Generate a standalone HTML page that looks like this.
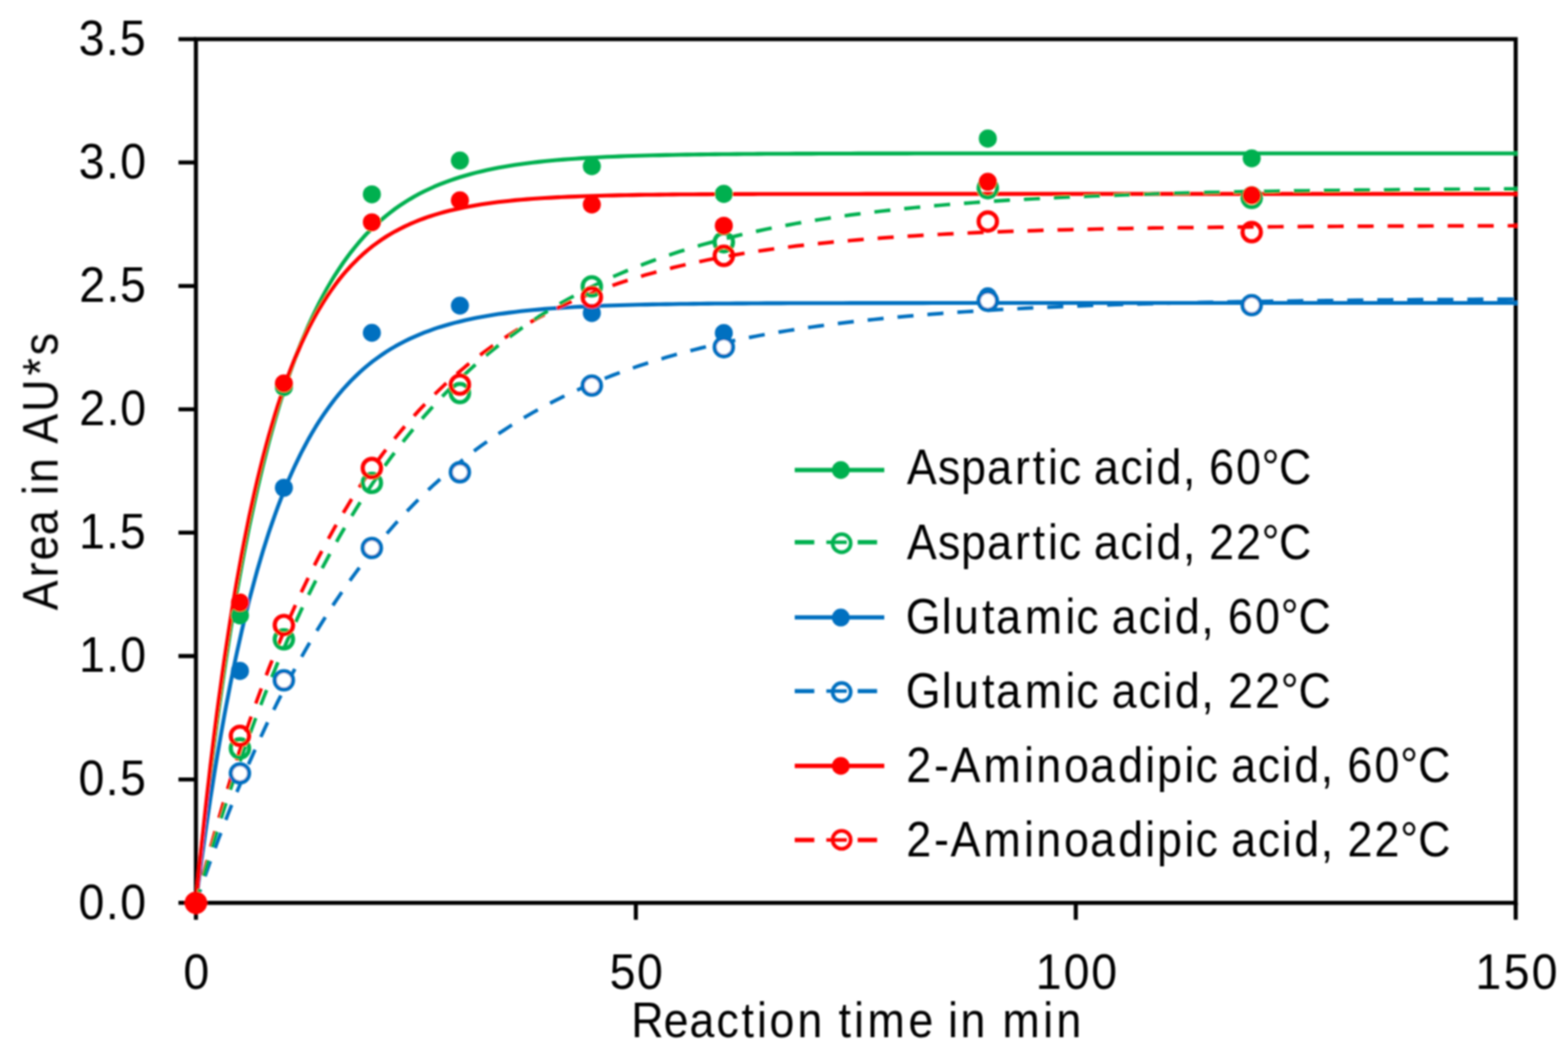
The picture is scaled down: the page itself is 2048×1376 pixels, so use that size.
<!DOCTYPE html>
<html lang="en"><head><meta charset="utf-8"><title>Reaction time chart</title>
<style>html,body{margin:0;padding:0;background:#fff}body{width:2048px;height:1376px;overflow:hidden}svg{display:block}text{font-family:"Liberation Sans",sans-serif;fill:#000;white-space:pre}</style></head><body>
<svg width="2048" height="1376" viewBox="0 0 2048 1376">
<defs><filter id="soft" x="0" y="0" width="2048" height="1376" filterUnits="userSpaceOnUse"><feGaussianBlur stdDeviation="0.8"/></filter></defs>
<rect width="2048" height="1376" fill="#fff"/>
<g filter="url(#soft)">
<g stroke="#000" stroke-width="5.3" fill="none">
<rect x="255.9" y="51.1" width="1723.8" height="1127.6"/>
<path d="M233.1 1178.7H255.9M233.1 1017.6H255.9M233.1 856.5H255.9M233.1 695.4H255.9M233.1 534.4H255.9M233.1 373.3H255.9M233.1 212.2H255.9M233.1 51.1H255.9M255.9 1178.7V1200.8M830.5 1178.7V1200.8M1405.1 1178.7V1200.8M1979.7 1178.7V1200.8"/>
</g>
<polyline fill="none" stroke="#00B050" stroke-width="5.1" stroke-linejoin="round" points="255.9,1178.7 256.0,1177.7 256.3,1175.1 256.7,1171.3 257.2,1166.3 257.8,1160.3 258.5,1153.2 259.4,1145.2 260.3,1136.3 261.4,1126.6 262.5,1116.1 263.7,1104.8 265.1,1092.9 266.5,1080.2 268.0,1067.0 269.6,1053.3 271.3,1039.0 273.1,1024.2 274.9,1009.0 276.9,993.4 278.9,977.4 281.0,961.2 283.2,944.7 285.5,927.9 287.9,910.9 290.3,893.8 292.8,876.6 295.4,859.2 298.1,841.9 300.8,824.4 303.6,807.0 306.5,789.7 309.5,772.4 312.6,755.1 315.7,738.0 318.9,721.1 322.2,704.3 325.5,687.6 329.0,671.2 332.5,655.0 336.0,639.1 339.7,623.4 343.4,607.9 347.2,592.8 351.0,577.9 355.0,563.4 359.0,549.1 363.0,535.2 367.2,521.6 371.4,508.4 375.6,495.5 380.0,482.9 384.4,470.7 388.9,458.8 393.4,447.3 398.1,436.2 402.7,425.3 407.5,414.9 412.3,404.8 417.2,395.0 422.2,385.6 427.2,376.5 432.3,367.8 437.4,359.3 442.6,351.3 447.9,343.5 453.3,336.0 458.7,328.8 464.2,322.0 469.7,315.4 475.3,309.1 481.0,303.1 486.7,297.4 492.6,291.9 498.4,286.7 504.3,281.7 510.3,277.0 516.4,272.4 522.5,268.2 528.7,264.1 535.0,260.2 541.3,256.5 547.6,253.1 554.1,249.8 560.6,246.7 567.1,243.7 573.8,240.9 580.4,238.3 587.2,235.8 594.0,233.5 600.9,231.3 607.8,229.2 614.8,227.2 621.8,225.4 628.9,223.7 636.1,222.0 643.3,220.5 650.6,219.1 658.0,217.8 665.4,216.5 672.9,215.3 680.4,214.2 688.0,213.2 695.7,212.3 703.4,211.4 711.2,210.5 719.0,209.8 726.9,209.0 734.8,208.4 742.9,207.8 750.9,207.2 759.1,206.6 767.3,206.1 775.5,205.7 783.8,205.2 792.2,204.8 800.6,204.5 809.1,204.1 817.6,203.8 826.2,203.5 834.9,203.2 843.6,203.0 852.3,202.8 861.2,202.6 870.1,202.4 879.0,202.2 888.0,202.0 897.1,201.9 906.2,201.7 915.4,201.6 924.6,201.5 933.9,201.4 943.2,201.3 952.6,201.2 962.1,201.1 971.6,201.0 981.2,201.0 990.8,200.9 1000.5,200.8 1010.2,200.8 1020.0,200.7 1029.9,200.7 1039.8,200.6 1049.7,200.6 1059.8,200.6 1069.8,200.5 1080.0,200.5 1090.2,200.5 1100.4,200.5 1110.7,200.5 1121.0,200.4 1131.5,200.4 1141.9,200.4 1152.4,200.4 1163.0,200.4 1173.6,200.4 1184.3,200.4 1195.1,200.3 1205.9,200.3 1216.7,200.3 1227.6,200.3 1238.6,200.3 1249.6,200.3 1260.7,200.3 1271.8,200.3 1283.0,200.3 1294.2,200.3 1305.5,200.3 1316.8,200.3 1328.2,200.3 1339.7,200.3 1351.2,200.3 1362.7,200.3 1374.3,200.3 1386.0,200.3 1397.7,200.3 1409.5,200.3 1421.3,200.3 1433.2,200.3 1445.1,200.3 1457.1,200.3 1469.1,200.3 1481.2,200.3 1493.4,200.3 1505.6,200.3 1517.8,200.3 1530.1,200.3 1542.5,200.3 1554.9,200.3 1567.4,200.3 1579.9,200.3 1592.5,200.3 1605.1,200.3 1617.7,200.3 1630.5,200.3 1643.3,200.3 1656.1,200.3 1669.0,200.3 1681.9,200.3 1694.9,200.3 1707.9,200.3 1721.0,200.3 1734.2,200.3 1747.4,200.3 1760.6,200.3 1773.9,200.3 1787.3,200.3 1800.7,200.3 1814.2,200.3 1827.7,200.3 1841.2,200.3 1854.8,200.3 1868.5,200.3 1882.2,200.3 1896.0,200.3 1909.8,200.3 1923.7,200.3 1937.6,200.3 1951.6,200.3 1965.6,200.3 1979.7,200.3 1982.2,200.3"/>
<polyline fill="none" stroke="#0070C0" stroke-width="5.1" stroke-linejoin="round" points="255.9,1178.7 256.0,1177.9 256.3,1175.8 256.7,1172.7 257.2,1168.7 257.8,1163.9 258.5,1158.2 259.4,1151.7 260.3,1144.5 261.4,1136.7 262.5,1128.2 263.7,1119.1 265.1,1109.5 266.5,1099.3 268.0,1088.7 269.6,1077.5 271.3,1066.0 273.1,1054.1 274.9,1041.9 276.9,1029.3 278.9,1016.5 281.0,1003.4 283.2,990.1 285.5,976.6 287.9,962.9 290.3,949.2 292.8,935.3 295.4,921.4 298.1,907.4 300.8,893.4 303.6,879.4 306.5,865.4 309.5,851.5 312.6,837.7 315.7,823.9 318.9,810.3 322.2,796.8 325.5,783.5 329.0,770.3 332.5,757.3 336.0,744.5 339.7,732.0 343.4,719.6 347.2,707.4 351.0,695.5 355.0,683.9 359.0,672.5 363.0,661.4 367.2,650.5 371.4,639.9 375.6,629.6 380.0,619.5 384.4,609.8 388.9,600.3 393.4,591.1 398.1,582.2 402.7,573.6 407.5,565.3 412.3,557.2 417.2,549.4 422.2,541.9 427.2,534.7 432.3,527.7 437.4,521.0 442.6,514.6 447.9,508.4 453.3,502.5 458.7,496.8 464.2,491.4 469.7,486.1 475.3,481.2 481.0,476.4 486.7,471.8 492.6,467.5 498.4,463.4 504.3,459.4 510.3,455.7 516.4,452.1 522.5,448.7 528.7,445.5 535.0,442.4 541.3,439.6 547.6,436.8 554.1,434.2 560.6,431.8 567.1,429.4 573.8,427.2 580.4,425.2 587.2,423.2 594.0,421.4 600.9,419.7 607.8,418.0 614.8,416.5 621.8,415.0 628.9,413.7 636.1,412.4 643.3,411.2 650.6,410.1 658.0,409.1 665.4,408.1 672.9,407.2 680.4,406.3 688.0,405.5 695.7,404.8 703.4,404.1 711.2,403.4 719.0,402.8 726.9,402.3 734.8,401.8 742.9,401.3 750.9,400.8 759.1,400.4 767.3,400.0 775.5,399.7 783.8,399.3 792.2,399.0 800.6,398.7 809.1,398.5 817.6,398.2 826.2,398.0 834.9,397.8 843.6,397.6 852.3,397.4 861.2,397.3 870.1,397.1 879.0,397.0 888.0,396.8 897.1,396.7 906.2,396.6 915.4,396.5 924.6,396.4 933.9,396.3 943.2,396.3 952.6,396.2 962.1,396.1 971.6,396.1 981.2,396.0 990.8,396.0 1000.5,395.9 1010.2,395.9 1020.0,395.9 1029.9,395.8 1039.8,395.8 1049.7,395.8 1059.8,395.7 1069.8,395.7 1080.0,395.7 1090.2,395.7 1100.4,395.7 1110.7,395.6 1121.0,395.6 1131.5,395.6 1141.9,395.6 1152.4,395.6 1163.0,395.6 1173.6,395.6 1184.3,395.6 1195.1,395.6 1205.9,395.6 1216.7,395.5 1227.6,395.5 1238.6,395.5 1249.6,395.5 1260.7,395.5 1271.8,395.5 1283.0,395.5 1294.2,395.5 1305.5,395.5 1316.8,395.5 1328.2,395.5 1339.7,395.5 1351.2,395.5 1362.7,395.5 1374.3,395.5 1386.0,395.5 1397.7,395.5 1409.5,395.5 1421.3,395.5 1433.2,395.5 1445.1,395.5 1457.1,395.5 1469.1,395.5 1481.2,395.5 1493.4,395.5 1505.6,395.5 1517.8,395.5 1530.1,395.5 1542.5,395.5 1554.9,395.5 1567.4,395.5 1579.9,395.5 1592.5,395.5 1605.1,395.5 1617.7,395.5 1630.5,395.5 1643.3,395.5 1656.1,395.5 1669.0,395.5 1681.9,395.5 1694.9,395.5 1707.9,395.5 1721.0,395.5 1734.2,395.5 1747.4,395.5 1760.6,395.5 1773.9,395.5 1787.3,395.5 1800.7,395.5 1814.2,395.5 1827.7,395.5 1841.2,395.5 1854.8,395.5 1868.5,395.5 1882.2,395.5 1896.0,395.5 1909.8,395.5 1923.7,395.5 1937.6,395.5 1951.6,395.5 1965.6,395.5 1979.7,395.5 1982.2,395.5"/>
<polyline fill="none" stroke="#FF0000" stroke-width="5.1" stroke-linejoin="round" points="255.9,1178.7 256.0,1177.6 256.3,1174.9 256.7,1170.8 257.2,1165.5 257.8,1159.1 258.5,1151.6 259.4,1143.0 260.3,1133.6 261.4,1123.3 262.5,1112.1 263.7,1100.2 265.1,1087.6 266.5,1074.3 268.0,1060.4 269.6,1045.9 271.3,1030.9 273.1,1015.5 274.9,999.6 276.9,983.4 278.9,966.8 281.0,950.0 283.2,932.9 285.5,915.7 287.9,898.3 290.3,880.8 292.8,863.2 295.4,845.6 298.1,828.0 300.8,810.4 303.6,792.9 306.5,775.5 309.5,758.2 312.6,741.1 315.7,724.1 318.9,707.4 322.2,690.9 325.5,674.6 329.0,658.6 332.5,642.9 336.0,627.5 339.7,612.4 343.4,597.6 347.2,583.2 351.0,569.2 355.0,555.4 359.0,542.1 363.0,529.1 367.2,516.5 371.4,504.3 375.6,492.4 380.0,481.0 384.4,469.9 388.9,459.2 393.4,448.9 398.1,438.9 402.7,429.3 407.5,420.1 412.3,411.3 417.2,402.8 422.2,394.6 427.2,386.8 432.3,379.4 437.4,372.2 442.6,365.4 447.9,358.9 453.3,352.7 458.7,346.8 464.2,341.2 469.7,335.8 475.3,330.7 481.0,325.9 486.7,321.3 492.6,317.0 498.4,312.9 504.3,309.0 510.3,305.4 516.4,301.9 522.5,298.7 528.7,295.6 535.0,292.7 541.3,290.0 547.6,287.4 554.1,285.0 560.6,282.7 567.1,280.6 573.8,278.6 580.4,276.8 587.2,275.0 594.0,273.4 600.9,271.9 607.8,270.5 614.8,269.2 621.8,267.9 628.9,266.8 636.1,265.7 643.3,264.7 650.6,263.8 658.0,263.0 665.4,262.2 672.9,261.4 680.4,260.8 688.0,260.1 695.7,259.5 703.4,259.0 711.2,258.5 719.0,258.1 726.9,257.6 734.8,257.2 742.9,256.9 750.9,256.6 759.1,256.3 767.3,256.0 775.5,255.7 783.8,255.5 792.2,255.3 800.6,255.1 809.1,254.9 817.6,254.7 826.2,254.6 834.9,254.4 843.6,254.3 852.3,254.2 861.2,254.1 870.1,254.0 879.0,253.9 888.0,253.8 897.1,253.8 906.2,253.7 915.4,253.6 924.6,253.6 933.9,253.5 943.2,253.5 952.6,253.5 962.1,253.4 971.6,253.4 981.2,253.4 990.8,253.3 1000.5,253.3 1010.2,253.3 1020.0,253.3 1029.9,253.2 1039.8,253.2 1049.7,253.2 1059.8,253.2 1069.8,253.2 1080.0,253.2 1090.2,253.2 1100.4,253.2 1110.7,253.2 1121.0,253.2 1131.5,253.1 1141.9,253.1 1152.4,253.1 1163.0,253.1 1173.6,253.1 1184.3,253.1 1195.1,253.1 1205.9,253.1 1216.7,253.1 1227.6,253.1 1238.6,253.1 1249.6,253.1 1260.7,253.1 1271.8,253.1 1283.0,253.1 1294.2,253.1 1305.5,253.1 1316.8,253.1 1328.2,253.1 1339.7,253.1 1351.2,253.1 1362.7,253.1 1374.3,253.1 1386.0,253.1 1397.7,253.1 1409.5,253.1 1421.3,253.1 1433.2,253.1 1445.1,253.1 1457.1,253.1 1469.1,253.1 1481.2,253.1 1493.4,253.1 1505.6,253.1 1517.8,253.1 1530.1,253.1 1542.5,253.1 1554.9,253.1 1567.4,253.1 1579.9,253.1 1592.5,253.1 1605.1,253.1 1617.7,253.1 1630.5,253.1 1643.3,253.1 1656.1,253.1 1669.0,253.1 1681.9,253.1 1694.9,253.1 1707.9,253.1 1721.0,253.1 1734.2,253.1 1747.4,253.1 1760.6,253.1 1773.9,253.1 1787.3,253.1 1800.7,253.1 1814.2,253.1 1827.7,253.1 1841.2,253.1 1854.8,253.1 1868.5,253.1 1882.2,253.1 1896.0,253.1 1909.8,253.1 1923.7,253.1 1937.6,253.1 1951.6,253.1 1965.6,253.1 1979.7,253.1 1982.2,253.1"/>
<polyline fill="none" stroke="#FF0000" stroke-width="4.7" stroke-dasharray="21 18.2" stroke-dashoffset="2.5" stroke-linejoin="round" points="255.9,1178.7 256.0,1178.3 256.3,1177.3 256.7,1175.7 257.2,1173.7 257.8,1171.3 258.5,1168.4 259.4,1165.1 260.3,1161.4 261.4,1157.4 262.5,1153.0 263.7,1148.3 265.1,1143.3 266.5,1137.9 268.0,1132.2 269.6,1126.3 271.3,1120.1 273.1,1113.5 274.9,1106.8 276.9,1099.8 278.9,1092.5 281.0,1085.0 283.2,1077.3 285.5,1069.4 287.9,1061.4 290.3,1053.1 292.8,1044.6 295.4,1036.0 298.1,1027.2 300.8,1018.3 303.6,1009.2 306.5,1000.1 309.5,990.7 312.6,981.3 315.7,971.8 318.9,962.2 322.2,952.5 325.5,942.8 329.0,933.0 332.5,923.1 336.0,913.2 339.7,903.2 343.4,893.2 347.2,883.2 351.0,873.2 355.0,863.1 359.0,853.1 363.0,843.1 367.2,833.0 371.4,823.0 375.6,813.1 380.0,803.1 384.4,793.2 388.9,783.3 393.4,773.5 398.1,763.8 402.7,754.1 407.5,744.4 412.3,734.9 417.2,725.4 422.2,716.0 427.2,706.6 432.3,697.4 437.4,688.2 442.6,679.2 447.9,670.2 453.3,661.4 458.7,652.6 464.2,644.0 469.7,635.5 475.3,627.0 481.0,618.7 486.7,610.5 492.6,602.5 498.4,594.5 504.3,586.7 510.3,579.0 516.4,571.4 522.5,564.0 528.7,556.6 535.0,549.4 541.3,542.4 547.6,535.4 554.1,528.6 560.6,521.9 567.1,515.4 573.8,508.9 580.4,502.6 587.2,496.5 594.0,490.4 600.9,484.5 607.8,478.7 614.8,473.1 621.8,467.6 628.9,462.2 636.1,456.9 643.3,451.7 650.6,446.7 658.0,441.8 665.4,437.0 672.9,432.3 680.4,427.8 688.0,423.3 695.7,419.0 703.4,414.8 711.2,410.7 719.0,406.7 726.9,402.8 734.8,399.0 742.9,395.4 750.9,391.8 759.1,388.3 767.3,385.0 775.5,381.7 783.8,378.5 792.2,375.4 800.6,372.4 809.1,369.6 817.6,366.7 826.2,364.0 834.9,361.4 843.6,358.8 852.3,356.4 861.2,354.0 870.1,351.7 879.0,349.4 888.0,347.3 897.1,345.2 906.2,343.1 915.4,341.2 924.6,339.3 933.9,337.5 943.2,335.7 952.6,334.0 962.1,332.4 971.6,330.8 981.2,329.3 990.8,327.8 1000.5,326.4 1010.2,325.0 1020.0,323.7 1029.9,322.5 1039.8,321.2 1049.7,320.1 1059.8,319.0 1069.8,317.9 1080.0,316.8 1090.2,315.8 1100.4,314.9 1110.7,314.0 1121.0,313.1 1131.5,312.2 1141.9,311.4 1152.4,310.6 1163.0,309.9 1173.6,309.2 1184.3,308.5 1195.1,307.8 1205.9,307.2 1216.7,306.6 1227.6,306.0 1238.6,305.4 1249.6,304.9 1260.7,304.4 1271.8,303.9 1283.0,303.4 1294.2,303.0 1305.5,302.6 1316.8,302.2 1328.2,301.8 1339.7,301.4 1351.2,301.1 1362.7,300.7 1374.3,300.4 1386.0,300.1 1397.7,299.8 1409.5,299.5 1421.3,299.3 1433.2,299.0 1445.1,298.8 1457.1,298.5 1469.1,298.3 1481.2,298.1 1493.4,297.9 1505.6,297.7 1517.8,297.5 1530.1,297.4 1542.5,297.2 1554.9,297.1 1567.4,296.9 1579.9,296.8 1592.5,296.6 1605.1,296.5 1617.7,296.4 1630.5,296.3 1643.3,296.2 1656.1,296.1 1669.0,296.0 1681.9,295.9 1694.9,295.8 1707.9,295.7 1721.0,295.6 1734.2,295.6 1747.4,295.5 1760.6,295.4 1773.9,295.4 1787.3,295.3 1800.7,295.2 1814.2,295.2 1827.7,295.1 1841.2,295.1 1854.8,295.1 1868.5,295.0 1882.2,295.0 1896.0,294.9 1909.8,294.9 1923.7,294.9 1937.6,294.8 1951.6,294.8 1965.6,294.8 1979.7,294.7 1982.2,294.7"/>
<polyline fill="none" stroke="#0070C0" stroke-width="4.7" stroke-dasharray="21 18.2" stroke-dashoffset="2.5" stroke-linejoin="round" points="255.9,1178.7 256.0,1178.4 256.3,1177.6 256.7,1176.4 257.2,1174.9 257.8,1173.0 258.5,1170.9 259.4,1168.4 260.3,1165.6 261.4,1162.5 262.5,1159.2 263.7,1155.6 265.1,1151.8 266.5,1147.7 268.0,1143.3 269.6,1138.8 271.3,1134.0 273.1,1129.0 274.9,1123.8 276.9,1118.4 278.9,1112.9 281.0,1107.1 283.2,1101.2 285.5,1095.0 287.9,1088.8 290.3,1082.4 292.8,1075.8 295.4,1069.1 298.1,1062.2 300.8,1055.3 303.6,1048.2 306.5,1041.0 309.5,1033.7 312.6,1026.3 315.7,1018.8 318.9,1011.2 322.2,1003.5 325.5,995.8 329.0,988.0 332.5,980.1 336.0,972.2 339.7,964.2 343.4,956.2 347.2,948.1 351.0,940.0 355.0,931.9 359.0,923.7 363.0,915.6 367.2,907.4 371.4,899.2 375.6,891.0 380.0,882.8 384.4,874.7 388.9,866.5 393.4,858.4 398.1,850.2 402.7,842.1 407.5,834.0 412.3,826.0 417.2,818.0 422.2,810.0 427.2,802.1 432.3,794.2 437.4,786.4 442.6,778.7 447.9,770.9 453.3,763.3 458.7,755.7 464.2,748.2 469.7,740.7 475.3,733.4 481.0,726.0 486.7,718.8 492.6,711.7 498.4,704.6 504.3,697.6 510.3,690.7 516.4,683.8 522.5,677.1 528.7,670.4 535.0,663.9 541.3,657.4 547.6,651.0 554.1,644.7 560.6,638.5 567.1,632.4 573.8,626.4 580.4,620.5 587.2,614.6 594.0,608.9 600.9,603.3 607.8,597.7 614.8,592.3 621.8,586.9 628.9,581.7 636.1,576.5 643.3,571.5 650.6,566.5 658.0,561.7 665.4,556.9 672.9,552.2 680.4,547.6 688.0,543.2 695.7,538.8 703.4,534.5 711.2,530.3 719.0,526.1 726.9,522.1 734.8,518.2 742.9,514.3 750.9,510.6 759.1,506.9 767.3,503.3 775.5,499.8 783.8,496.4 792.2,493.1 800.6,489.8 809.1,486.6 817.6,483.5 826.2,480.5 834.9,477.6 843.6,474.7 852.3,471.9 861.2,469.2 870.1,466.6 879.0,464.0 888.0,461.5 897.1,459.1 906.2,456.7 915.4,454.4 924.6,452.2 933.9,450.0 943.2,447.9 952.6,445.9 962.1,443.9 971.6,441.9 981.2,440.1 990.8,438.3 1000.5,436.5 1010.2,434.8 1020.0,433.1 1029.9,431.5 1039.8,430.0 1049.7,428.5 1059.8,427.0 1069.8,425.6 1080.0,424.3 1090.2,422.9 1100.4,421.7 1110.7,420.4 1121.0,419.2 1131.5,418.1 1141.9,417.0 1152.4,415.9 1163.0,414.9 1173.6,413.8 1184.3,412.9 1195.1,411.9 1205.9,411.0 1216.7,410.2 1227.6,409.3 1238.6,408.5 1249.6,407.7 1260.7,407.0 1271.8,406.3 1283.0,405.6 1294.2,404.9 1305.5,404.2 1316.8,403.6 1328.2,403.0 1339.7,402.4 1351.2,401.9 1362.7,401.3 1374.3,400.8 1386.0,400.3 1397.7,399.9 1409.5,399.4 1421.3,399.0 1433.2,398.5 1445.1,398.1 1457.1,397.7 1469.1,397.4 1481.2,397.0 1493.4,396.7 1505.6,396.3 1517.8,396.0 1530.1,395.7 1542.5,395.4 1554.9,395.2 1567.4,394.9 1579.9,394.6 1592.5,394.4 1605.1,394.2 1617.7,393.9 1630.5,393.7 1643.3,393.5 1656.1,393.3 1669.0,393.1 1681.9,393.0 1694.9,392.8 1707.9,392.6 1721.0,392.5 1734.2,392.3 1747.4,392.2 1760.6,392.0 1773.9,391.9 1787.3,391.8 1800.7,391.7 1814.2,391.5 1827.7,391.4 1841.2,391.3 1854.8,391.2 1868.5,391.1 1882.2,391.1 1896.0,391.0 1909.8,390.9 1923.7,390.8 1937.6,390.7 1951.6,390.7 1965.6,390.6 1979.7,390.5 1982.2,390.5"/>
<polyline fill="none" stroke="#00B050" stroke-width="4.7" stroke-dasharray="21 18.2" stroke-dashoffset="2.5" stroke-linejoin="round" points="255.9,1178.7 256.0,1178.3 256.3,1177.4 256.7,1176.0 257.2,1174.2 257.8,1171.9 258.5,1169.3 259.4,1166.4 260.3,1163.0 261.4,1159.4 262.5,1155.4 263.7,1151.1 265.1,1146.5 266.5,1141.6 268.0,1136.4 269.6,1131.0 271.3,1125.3 273.1,1119.3 274.9,1113.1 276.9,1106.6 278.9,1100.0 281.0,1093.1 283.2,1086.0 285.5,1078.7 287.9,1071.2 290.3,1063.6 292.8,1055.7 295.4,1047.7 298.1,1039.5 300.8,1031.2 303.6,1022.8 306.5,1014.2 309.5,1005.5 312.6,996.6 315.7,987.7 318.9,978.6 322.2,969.5 325.5,960.2 329.0,950.9 332.5,941.5 336.0,932.1 339.7,922.6 343.4,913.0 347.2,903.4 351.0,893.8 355.0,884.1 359.0,874.4 363.0,864.7 367.2,854.9 371.4,845.2 375.6,835.5 380.0,825.7 384.4,816.0 388.9,806.3 393.4,796.6 398.1,786.9 402.7,777.3 407.5,767.7 412.3,758.2 417.2,748.6 422.2,739.2 427.2,729.8 432.3,720.4 437.4,711.2 442.6,701.9 447.9,692.8 453.3,683.7 458.7,674.7 464.2,665.8 469.7,657.0 475.3,648.2 481.0,639.6 486.7,631.0 492.6,622.5 498.4,614.2 504.3,605.9 510.3,597.7 516.4,589.6 522.5,581.6 528.7,573.8 535.0,566.0 541.3,558.4 547.6,550.8 554.1,543.4 560.6,536.1 567.1,528.8 573.8,521.8 580.4,514.8 587.2,507.9 594.0,501.1 600.9,494.5 607.8,488.0 614.8,481.6 621.8,475.3 628.9,469.1 636.1,463.0 643.3,457.1 650.6,451.3 658.0,445.6 665.4,439.9 672.9,434.5 680.4,429.1 688.0,423.8 695.7,418.7 703.4,413.6 711.2,408.7 719.0,403.9 726.9,399.1 734.8,394.5 742.9,390.0 750.9,385.6 759.1,381.3 767.3,377.1 775.5,373.0 783.8,369.0 792.2,365.1 800.6,361.3 809.1,357.6 817.6,354.0 826.2,350.5 834.9,347.1 843.6,343.7 852.3,340.5 861.2,337.3 870.1,334.2 879.0,331.3 888.0,328.3 897.1,325.5 906.2,322.8 915.4,320.1 924.6,317.5 933.9,315.0 943.2,312.5 952.6,310.2 962.1,307.9 971.6,305.6 981.2,303.5 990.8,301.4 1000.5,299.3 1010.2,297.3 1020.0,295.4 1029.9,293.6 1039.8,291.8 1049.7,290.0 1059.8,288.4 1069.8,286.7 1080.0,285.2 1090.2,283.6 1100.4,282.2 1110.7,280.7 1121.0,279.4 1131.5,278.0 1141.9,276.8 1152.4,275.5 1163.0,274.3 1173.6,273.2 1184.3,272.1 1195.1,271.0 1205.9,269.9 1216.7,268.9 1227.6,268.0 1238.6,267.0 1249.6,266.2 1260.7,265.3 1271.8,264.5 1283.0,263.7 1294.2,262.9 1305.5,262.1 1316.8,261.4 1328.2,260.8 1339.7,260.1 1351.2,259.5 1362.7,258.8 1374.3,258.3 1386.0,257.7 1397.7,257.2 1409.5,256.6 1421.3,256.1 1433.2,255.7 1445.1,255.2 1457.1,254.8 1469.1,254.3 1481.2,253.9 1493.4,253.5 1505.6,253.2 1517.8,252.8 1530.1,252.5 1542.5,252.1 1554.9,251.8 1567.4,251.5 1579.9,251.2 1592.5,251.0 1605.1,250.7 1617.7,250.4 1630.5,250.2 1643.3,250.0 1656.1,249.8 1669.0,249.5 1681.9,249.3 1694.9,249.1 1707.9,249.0 1721.0,248.8 1734.2,248.6 1747.4,248.5 1760.6,248.3 1773.9,248.2 1787.3,248.0 1800.7,247.9 1814.2,247.8 1827.7,247.6 1841.2,247.5 1854.8,247.4 1868.5,247.3 1882.2,247.2 1896.0,247.1 1909.8,247.0 1923.7,246.9 1937.6,246.9 1951.6,246.8 1965.6,246.7 1979.7,246.6 1982.2,246.6"/>
<g fill="#00B050">
<circle cx="313.4" cy="803.4" r="11.8"/>
<circle cx="370.8" cy="505.4" r="11.8"/>
<circle cx="485.7" cy="253.7" r="11.8"/>
<circle cx="600.7" cy="209.6" r="11.8"/>
<circle cx="773.0" cy="217.0" r="11.8"/>
<circle cx="945.4" cy="253.1" r="11.8"/>
<circle cx="1290.2" cy="180.9" r="11.8"/>
<circle cx="1634.9" cy="206.7" r="11.8"/>
</g>
<g fill="none" stroke="#00B050" stroke-width="5.4">
<circle cx="313.4" cy="977.0" r="12.0"/>
<circle cx="370.8" cy="834.6" r="12.0"/>
<circle cx="485.7" cy="630.4" r="12.0"/>
<circle cx="600.7" cy="513.1" r="12.0"/>
<circle cx="773.0" cy="373.9" r="12.0"/>
<circle cx="945.4" cy="316.2" r="12.0"/>
<circle cx="1290.2" cy="245.7" r="12.0"/>
<circle cx="1634.9" cy="258.3" r="12.0"/>
</g>
<g fill="#0070C0">
<circle cx="313.4" cy="875.9" r="11.8"/>
<circle cx="370.8" cy="636.8" r="11.8"/>
<circle cx="485.7" cy="434.5" r="11.8"/>
<circle cx="600.7" cy="399.0" r="11.8"/>
<circle cx="773.0" cy="408.7" r="11.8"/>
<circle cx="945.4" cy="434.8" r="11.8"/>
<circle cx="1290.2" cy="386.8" r="11.8"/>
<circle cx="1634.9" cy="395.8" r="11.8"/>
</g>
<g fill="#fff" stroke="#0070C0" stroke-width="5.4">
<circle cx="313.4" cy="1009.6" r="12.0"/>
<circle cx="370.8" cy="888.1" r="12.0"/>
<circle cx="485.7" cy="715.4" r="12.0"/>
<circle cx="600.7" cy="616.5" r="12.0"/>
<circle cx="773.0" cy="503.4" r="12.0"/>
<circle cx="945.4" cy="453.2" r="12.0"/>
<circle cx="1290.2" cy="392.6" r="12.0"/>
<circle cx="1634.9" cy="398.4" r="12.0"/>
</g>
<g fill="#FF0000">
<circle cx="255.9" cy="1178.7" r="11.8"/>
<circle cx="313.4" cy="786.6" r="11.8"/>
<circle cx="370.8" cy="500.5" r="11.8"/>
<circle cx="485.7" cy="290.2" r="11.8"/>
<circle cx="600.7" cy="261.5" r="11.8"/>
<circle cx="773.0" cy="267.0" r="11.8"/>
<circle cx="945.4" cy="294.7" r="11.8"/>
<circle cx="1290.2" cy="237.3" r="11.8"/>
<circle cx="1634.9" cy="255.0" r="11.8"/>
</g>
<g fill="none" stroke="#FF0000" stroke-width="5.4">
<circle cx="255.9" cy="1178.7" r="12.0"/>
<circle cx="313.4" cy="960.6" r="12.0"/>
<circle cx="370.8" cy="815.9" r="12.0"/>
<circle cx="485.7" cy="611.0" r="12.0"/>
<circle cx="600.7" cy="502.1" r="12.0"/>
<circle cx="773.0" cy="388.1" r="12.0"/>
<circle cx="945.4" cy="334.0" r="12.0"/>
<circle cx="1290.2" cy="289.2" r="12.0"/>
<circle cx="1634.9" cy="303.0" r="12.0"/>
</g>
<g>
<text transform="translate(102.62 1199.50) scale(0.950 1)" x="0 37.5 57.2" font-size="64">0.0</text>
<text transform="translate(102.62 1038.41) scale(0.950 1)" x="0 37.35 56.86" font-size="64">0.5</text>
<text transform="translate(103.37 877.33) scale(0.950 1)" x="0 37.25 56.41" font-size="64">1.0</text>
<text transform="translate(103.37 716.24) scale(0.950 1)" x="0 37.09 56.07" font-size="64">1.5</text>
<text transform="translate(103.44 555.16) scale(0.950 1)" x="0 37.59 56.34" font-size="64">2.0</text>
<text transform="translate(103.44 394.07) scale(0.950 1)" x="0 37.43 56" font-size="64">2.5</text>
<text transform="translate(102.68 232.99) scale(0.950 1)" x="0 37.7 57.13" font-size="64">3.0</text>
<text transform="translate(102.68 71.90) scale(0.950 1)" x="0 37.55 56.79" font-size="64">3.5</text>
<text transform="translate(239.39 1291.20) scale(0.950 1)" x="0" font-size="64">0</text>
<text transform="translate(796.37 1291.20) scale(0.950 1)" x="0 37.57" font-size="64">50</text>
<text transform="translate(1352.87 1291.20) scale(0.950 1)" x="0 38.29 76.31" font-size="64">100</text>
<text transform="translate(1927.07 1291.20) scale(0.950 1)" x="0 38.82 77.25" font-size="64">150</text>
</g>
<text transform="translate(824.40 1353.80) scale(0.900 1)" x="0 47.01 84.59 123.79 160.13 182.52 200.61 241.29 279.99 301.01 323.4 342.83 402.28 440.27 459.97 477.99 516.69 538.67 597.85 616.96" font-size="65">Reaction time in min</text>
<text transform="translate(75.20 796.71) rotate(-90) scale(0.900 1)" x="0 47.69 72.15 109.04 147.44 166.84 184.36 222.55 241.81 287.79 340.61 369.86" font-size="65">Area in AU*s</text>
<path d="M1038 613.6H1155" stroke="#00B050" stroke-width="5.6" fill="none"/>
<circle cx="1098.2" cy="613.6" r="11.6" fill="#00B050"/>
<text transform="translate(1184.49 632.30) scale(0.900 1)" x="0 45.1 78.64 116.49 157.03 182.63 204.66 220.48 253.86 271.43 309.87 344.38 362.27 400.47 419.22 438.63 477.74 514.66 539.99" font-size="65">Aspartic acid, 60°C</text>
<path d="M1038 707.9H1063.6M1120.2 707.9H1145.6" stroke="#00B050" stroke-width="5.6" fill="none"/>
<path d="M1079.3 707.9H1106" stroke="#00B050" stroke-width="4.6" fill="none"/>
<circle cx="1099.3" cy="709.2" r="11.8" fill="none" stroke="#00B050" stroke-width="4.8"/>
<text transform="translate(1184.49 729.60) scale(0.900 1)" x="0 45.1 78.64 116.49 157.03 182.63 204.66 220.48 253.86 271.43 309.87 344.38 362.27 400.47 419.22 438.76 477.74 514.66 539.99" font-size="65">Aspartic acid, 22°C</text>
<path d="M1038 806.0H1155" stroke="#0070C0" stroke-width="5.6" fill="none"/>
<circle cx="1098.2" cy="806.2" r="11.6" fill="#0070C0"/>
<text transform="translate(1183.06 826.60) scale(0.900 1)" x="0 52.21 69.95 110.64 131.14 172.8 231.51 247.55 281.14 298.94 337.67 372.38 390.5 428.94 447.84 467.49 506.91 544.1 569.91" font-size="65">Glutamic acid, 60°C</text>
<path d="M1038 902.2H1063.6M1120.2 902.2H1145.6" stroke="#0070C0" stroke-width="5.6" fill="none"/>
<path d="M1079.3 902.2H1106" stroke="#0070C0" stroke-width="4.6" fill="none"/>
<circle cx="1099.3" cy="903.5" r="11.8" fill="none" stroke="#0070C0" stroke-width="4.8"/>
<text transform="translate(1183.06 923.50) scale(0.900 1)" x="0 52.21 69.95 110.64 131.14 172.8 231.51 247.55 281.14 298.94 337.67 372.38 390.5 428.94 447.84 467.62 506.91 544.1 569.91" font-size="65">Glutamic acid, 22°C</text>
<path d="M1038 999.9H1155" stroke="#FF0000" stroke-width="5.6" fill="none"/>
<circle cx="1098.2" cy="999.9" r="11.6" fill="#FF0000"/>
<text transform="translate(1183.76 1020.50) scale(0.900 1)" x="0 40.22 64.12 112.02 170.77 188.48 228.76 266.62 307.48 346.53 363.85 403.72 419.8 453.43 471.28 510.06 544.81 562.96 601.44 620.37 640.07 679.54 716.78 742.69" font-size="65">2-Aminoadipic acid, 60°C</text>
<path d="M1038 1096.6H1063.6M1120.2 1096.6H1145.6" stroke="#FF0000" stroke-width="5.6" fill="none"/>
<path d="M1079.3 1096.6H1106" stroke="#FF0000" stroke-width="4.6" fill="none"/>
<circle cx="1099.3" cy="1096.4" r="11.8" fill="none" stroke="#FF0000" stroke-width="4.8"/>
<text transform="translate(1183.76 1117.60) scale(0.900 1)" x="0 40.22 64.12 112.02 170.77 188.48 228.76 266.62 307.48 346.53 363.85 403.72 419.8 453.43 471.28 510.06 544.81 562.96 601.44 620.37 640.19 679.54 716.78 742.69" font-size="65">2-Aminoadipic acid, 22°C</text>
</g>
</svg></body></html>
